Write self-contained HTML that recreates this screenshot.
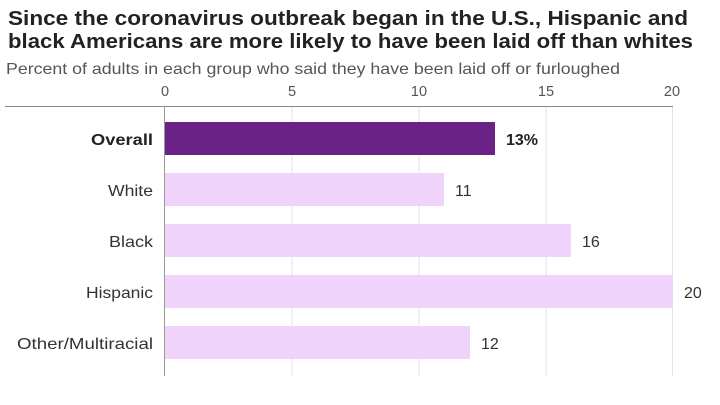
<!DOCTYPE html>
<html><head><meta charset="utf-8"><style>
html,body{margin:0;padding:0;background:#fff;}
svg{display:block;font-family:"Liberation Sans",sans-serif;}
</style></head><body>
<svg width="720" height="405" viewBox="0 0 720 405">
<rect width="720" height="405" fill="#fff"/>
<text x="8" y="25" font-size="20.5" font-weight="bold" fill="#222" textLength="680" lengthAdjust="spacingAndGlyphs">Since the coronavirus outbreak began in the U.S., Hispanic and</text>
<text x="8" y="48" font-size="20.5" font-weight="bold" fill="#222" textLength="685" lengthAdjust="spacingAndGlyphs">black Americans are more likely to have been laid off than whites</text>
<text x="6" y="74" font-size="16" fill="#555" textLength="614" lengthAdjust="spacingAndGlyphs">Percent of adults in each group who said they have been laid off or furloughed</text>
<g font-size="14.5" fill="#555" text-anchor="middle">
<text x="165" y="96">0</text><text x="292" y="96">5</text><text x="419" y="96">10</text><text x="546" y="96">15</text><text x="672" y="96">20</text>
</g>
<line x1="5" y1="106.5" x2="673" y2="106.5" stroke="#888" stroke-width="1"/>
<g stroke="#e2e2e2" stroke-width="1">
<line x1="292" y1="107" x2="292" y2="376"/><line x1="419" y1="107" x2="419" y2="376"/><line x1="546" y1="107" x2="546" y2="376"/><line x1="672.5" y1="107" x2="672.5" y2="376"/>
</g>
<rect x="165" y="122" width="330" height="33" fill="#6a2287"/>
<rect x="165" y="173" width="279" height="33" fill="#efd3fb"/>
<rect x="165" y="224" width="406" height="33" fill="#efd3fb"/>
<rect x="165" y="275" width="508" height="33" fill="#efd3fb"/>
<rect x="165" y="326" width="305" height="33" fill="#efd3fb"/>
<line x1="164.5" y1="106" x2="164.5" y2="376" stroke="#999" stroke-width="1"/>
<g font-size="16" fill="#333" text-anchor="end">
<text x="153" y="145" font-weight="bold" fill="#222" textLength="62" lengthAdjust="spacingAndGlyphs">Overall</text>
<text x="153" y="196" textLength="45" lengthAdjust="spacingAndGlyphs">White</text>
<text x="153" y="247" textLength="44" lengthAdjust="spacingAndGlyphs">Black</text>
<text x="153" y="298" textLength="67" lengthAdjust="spacingAndGlyphs">Hispanic</text>
<text x="153" y="349" textLength="136" lengthAdjust="spacingAndGlyphs">Other/Multiracial</text>
</g>
<g font-size="16" fill="#333">
<text x="506" y="145" font-weight="bold" fill="#222">13%</text>
<text x="455" y="196">11</text>
<text x="582" y="247">16</text>
<text x="684" y="298">20</text>
<text x="481" y="349">12</text>
</g>
</svg>
</body></html>
